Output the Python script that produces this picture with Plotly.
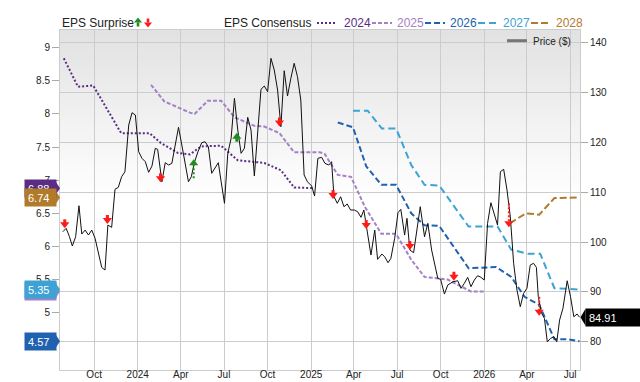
import plotly.graph_objects as go

# ---------------- data ----------------
price_dates = ["2023-07-27","2023-08-03","2023-08-10","2023-08-16","2023-08-23","2023-08-30","2023-09-05","2023-09-12",
    "2023-09-19","2023-09-26","2023-10-03","2023-10-10","2023-10-17","2023-10-24","2023-10-30","2023-11-07","2023-11-14",
    "2023-11-21","2023-11-28","2023-12-05","2023-12-13","2023-12-20","2023-12-27",
    "2024-01-03","2024-01-10","2024-01-17","2024-01-24","2024-01-31","2024-02-07","2024-02-12","2024-02-21","2024-02-28",
    "2024-03-06","2024-03-13","2024-03-20","2024-03-27","2024-04-03","2024-04-10","2024-04-17","2024-04-23","2024-04-30",
    "2024-05-07","2024-05-15","2024-05-22","2024-05-29","2024-06-05","2024-06-12","2024-06-19","2024-06-25","2024-07-02",
    "2024-07-09","2024-07-16","2024-07-23","2024-07-30","2024-08-06","2024-08-13","2024-08-20","2024-08-27","2024-09-03",
    "2024-09-10","2024-09-17","2024-09-24","2024-10-01","2024-10-08","2024-10-15","2024-10-22","2024-10-29","2024-11-05",
    "2024-11-12","2024-11-19","2024-11-26","2024-12-03","2024-12-10","2024-12-17","2024-12-24",
    "2025-01-02","2025-01-08","2025-01-15","2025-01-23","2025-01-30","2025-02-07","2025-02-13","2025-02-18","2025-02-25",
    "2025-03-04","2025-03-11","2025-03-18","2025-03-25","2025-04-02","2025-04-09","2025-04-16","2025-04-22","2025-04-28",
    "2025-05-07","2025-05-15","2025-05-21","2025-05-30","2025-06-05","2025-06-12","2025-06-18","2025-06-26","2025-07-03",
    "2025-07-09","2025-07-17","2025-07-22","2025-07-28","2025-08-05","2025-08-12","2025-08-19","2025-08-28","2025-09-04",
    "2025-09-12","2025-09-19","2025-09-25","2025-10-01","2025-10-09","2025-10-16","2025-10-27","2025-11-06","2025-11-13",
    "2025-11-20","2025-11-27","2025-12-04","2025-12-11","2025-12-18","2025-12-25",
    "2026-01-01","2026-01-08","2026-01-15","2026-01-22","2026-01-29","2026-02-04","2026-02-11","2026-02-18","2026-02-25",
    "2026-03-04","2026-03-11","2026-03-18","2026-03-25","2026-04-01","2026-04-08","2026-04-15","2026-04-21","2026-04-25",
    "2026-05-02","2026-05-08","2026-05-14","2026-05-21","2026-05-28","2026-06-03","2026-06-09","2026-06-16","2026-06-25",
    "2026-07-02","2026-07-09","2026-07-16","2026-07-21"]
price_values = [102.07,102.75,101.06,99.2,101.06,107.28,101.6,102.4,
    101.4,102.4,100.74,97.73,94.92,94.38,103.41,102.95,110.58,
    110.98,113.1,114.1,123.48,125.95,125.49,
    118.12,116.79,116.12,113.99,115.25,118.81,118.6,112.1,115.92,
    115.45,115.79,119.47,123.02,119.47,116.12,112.1,113.1,116.12,
    118.12,119.93,120.13,119.13,113.79,114.79,115.92,112.1,107.77,
    117.8,120.81,128.84,122.48,117.8,118.81,125.03,122.48,113.25,
    122.48,130.65,131.31,130.17,136.87,134.52,130.51,123.14,134.38,
    129.3,132.86,135.87,133.18,128.5,113.45,112.1,
    111.24,109.23,116.8,117.0,115.8,115.45,116.12,109.09,107.77,
    109.09,107.09,107.63,106.42,106.42,106.08,104.96,106.42,103.07,
    97.39,102.41,96.53,97.59,97.05,95.85,96.73,100.74,105.88,
    106.56,101.4,104.76,98.39,97.85,102.41,107.09,101.06,103.75,
    98.39,95.38,92.71,92.51,89.56,91.37,92.03,92.23,90.71,
    91.7,92.92,91.03,92.37,93.24,92.92,
    92.37,103.75,107.89,105.42,103.41,114.11,114.59,110.44,105.08,
    95.73,90.37,87.02,89.7,90.71,95.38,95.73,94.92,89.02,
    85.69,84.69,79.99,80.67,80.99,79.99,84.35,86.7,92.23,
    89.02,85.01,85.55,84.91]

eps2024_dates = ["2023-07-29","2023-08-28","2023-09-29","2023-11-27","2024-01-26","2024-02-19","2024-03-26","2024-04-20",
    "2024-05-14","2024-06-25","2024-07-30","2024-09-24","2024-10-29","2024-11-26","2025-01-04"]
eps2024_values = [8.84,8.41,8.43,7.71,7.71,7.56,7.41,7.39,7.51,7.52,7.30,7.26,7.15,6.89,6.88]

eps2025_dates = ["2024-01-29","2024-02-26","2024-04-20","2024-04-30","2024-05-28","2024-06-25","2024-07-23","2024-09-03",
    "2024-09-24","2024-10-26","2024-11-26","2025-01-19","2025-01-29","2025-02-26","2025-03-26","2025-04-24","2025-05-29",
    "2025-06-29","2025-07-31","2025-08-28","2025-10-16","2025-11-13","2025-12-04","2025-12-31"]
eps2025_values = [8.44,8.19,8.02,8.00,8.20,8.20,7.95,7.82,7.81,7.71,7.42,7.42,7.40,7.08,7.05,6.60,6.19,6.19,5.80,5.54,
    5.50,5.39,5.32,5.32]

eps2026_dates = ["2025-02-26","2025-03-30","2025-04-27","2025-05-29","2025-06-29","2025-07-31","2025-08-28","2025-09-28",
    "2025-11-29","2026-01-26","2026-02-27","2026-03-27","2026-04-27","2026-05-29","2026-06-26","2026-07-21"]
eps2026_values = [7.87,7.80,7.21,6.93,6.93,6.50,6.32,6.31,5.67,5.69,5.54,5.24,5.12,4.60,4.60,4.57]

eps2027_dates = ["2025-03-30","2025-04-30","2025-05-30","2025-06-29","2025-07-31","2025-08-28","2025-09-28","2025-11-29",
    "2026-01-29","2026-02-27","2026-04-03","2026-04-29","2026-05-29","2026-07-21"]
eps2027_values = [8.05,8.05,7.78,7.78,7.23,6.93,6.92,6.30,6.30,5.95,5.89,5.89,5.37,5.35]

eps2028_dates = ["2026-02-24","2026-03-30","2026-04-27","2026-05-29","2026-07-21"]
eps2028_values = [6.35,6.50,6.48,6.73,6.74]

surprise_dates = ["2023-07-31","2023-10-29","2024-02-18","2024-04-28","2024-07-28","2024-10-26",
    "2025-02-16","2025-04-27","2025-07-28","2025-10-29","2026-02-22","2026-04-27"]
surprise_dir = ["down","down","down","up","up","down","down","down","down","down","down","down"]
surprise_head = [103.55,104.42,112.78,115.8,121.13,124.0,109.43,103.41,99.2,93.04,103.75,86.0]
surprise_tail = [104.55,105.42,113.78,112.78,120.13,125.0,110.43,104.41,100.2,94.04,107.77,89.02]

x_tick_vals = ["2023-10-01","2024-01-01","2024-04-01","2024-07-01","2024-10-01","2025-01-01","2025-04-01",
    "2025-07-01","2025-10-01","2026-01-01","2026-04-01","2026-07-01"]
x_tick_text = ["Oct","2024","Apr","Jul","Oct","2025","Apr","Jul","Oct","2026","Apr","Jul"]
eps_tick_vals = [5, 5.5, 6, 6.5, 7, 7.5, 8, 8.5, 9]
eps_tick_text = ["5", "5.5", "6", "6.5", "7", "7.5", "8", "8.5", "9"]
price_tick_vals = [80, 90, 100, 110, 120, 130, 140]

series_names = ["2024", "2025", "2026", "2027", "2028"]

# ---------------- styling ----------------
FONT = "Liberation Sans, Arial, sans-serif"
W, H = 640, 382
L, R, T, B = 60, 60, 30, 12
PW, PH = W - L - R, H - T - B

def pxx(x):
    return (x - L) / PW

def pxy(y):
    return (H - B - y) / PH

C = {"2024": "#5b2c83", "2025": "#a481c6", "2026": "#2062b0", "2027": "#3da2d4", "2028": "#b07c2c"}
DASH = {"2024": "2px,2px", "2025": "4px,2px", "2026": "6px,3px", "2027": "7px,4px", "2028": "7px,3px"}
RED, GREEN = "#ff1a1a", "#1e8c1e"

series = {
    "2024": (eps2024_dates, eps2024_values),
    "2025": (eps2025_dates, eps2025_values),
    "2026": (eps2026_dates, eps2026_values),
    "2027": (eps2027_dates, eps2027_values),
    "2028": (eps2028_dates, eps2028_values),
}

fig = go.Figure()

for name in series_names:
    d, v = series[name]
    fig.add_trace(go.Scatter(x=d, y=v, mode="lines", yaxis="y",
                             line=dict(color=C[name], width=2, dash=DASH[name]),
                             showlegend=False, hoverinfo="skip"))

fig.add_trace(go.Scatter(x=price_dates, y=price_values, mode="lines", yaxis="y2",
                         line=dict(color="#111111", width=1), showlegend=False, hoverinfo="skip"))

# surprise arrows
for col, dirn in ((RED, "down"), (GREEN, "up")):
    sx, sy, dx, dy, hx, hy = [], [], [], [], [], []
    for d, di, h, t in zip(surprise_dates, surprise_dir, surprise_head, surprise_tail):
        if di != dirn:
            continue
        if abs(t - h) > 1.5:
            dx += [d, d, None]; dy += [t, h, None]
        else:
            sx += [d, d, None]; sy += [t, h, None]
        hx.append(d); hy.append(h)
    if sx:
        fig.add_trace(go.Scatter(x=sx, y=sy, mode="lines", yaxis="y2", line=dict(color=col, width=3),
                                 showlegend=False, hoverinfo="skip"))
    if dx:
        fig.add_trace(go.Scatter(x=dx, y=dy, mode="lines", yaxis="y2", line=dict(color=col, width=2, dash="2px,2px"),
                                 showlegend=False, hoverinfo="skip"))
    fig.add_trace(go.Scatter(x=hx, y=hy, mode="markers", yaxis="y2",
                             marker=dict(symbol="triangle-down" if dirn == "down" else "triangle-up",
                                         size=8, color=col, line=dict(width=0)),
                             showlegend=False, hoverinfo="skip"))

shapes = []
annotations = []

# gradient background (top of plot grey fading to white)
N = 34
for i in range(N):
    y0 = 30 + i * 5
    g = int(round(226 + (255 - 226) * i / (N - 1)))
    shapes.append(dict(type="rect", xref="paper", yref="paper", x0=0, x1=1, y0=pxy(y0 + 5), y1=pxy(y0),
                       fillcolor=f"rgb({g},{g},{g})", line=dict(width=0), layer="below"))

# legend row
TXT = "#222222"
annotations.append(dict(text="EPS Surprise", x=pxx(60), y=pxy(23), xref="paper", yref="paper", xanchor="left",
                        yanchor="middle", showarrow=False, font=dict(family=FONT, size=12, color=TXT)))

def up_arrow(cx, cy, col):
    return [dict(type="path", xref="paper", yref="paper", line=dict(width=0), fillcolor=col,
                 path=f"M{pxx(cx-4)},{pxy(cy)} L{pxx(cx+4)},{pxy(cy)} L{pxx(cx)},{pxy(cy-5)} Z"),
            dict(type="rect", xref="paper", yref="paper", line=dict(width=0), fillcolor=col,
                 x0=pxx(cx-1.3), x1=pxx(cx+1.3), y0=pxy(cy+4), y1=pxy(cy))]

def down_arrow(cx, cy, col):
    return [dict(type="path", xref="paper", yref="paper", line=dict(width=0), fillcolor=col,
                 path=f"M{pxx(cx-4)},{pxy(cy)} L{pxx(cx+4)},{pxy(cy)} L{pxx(cx)},{pxy(cy+5)} Z"),
            dict(type="rect", xref="paper", yref="paper", line=dict(width=0), fillcolor=col,
                 x0=pxx(cx-1.3), x1=pxx(cx+1.3), y0=pxy(cy), y1=pxy(cy-4))]

shapes += up_arrow(138, 22.5, GREEN)
shapes += down_arrow(148, 22.5, RED)

annotations.append(dict(text="EPS Consensus", x=pxx(221.5), y=pxy(23), xref="paper", yref="paper", xanchor="left",
                        yanchor="middle", showarrow=False, font=dict(family=FONT, size=12, color=TXT)))
leg_pos = {"2024": (317, 336, 341.5), "2025": (372, 392, 394.5), "2026": (425, 445, 447.5),
           "2027": (478, 497, 500.5), "2028": (531, 551, 553.5)}
for name in series_names:
    a, b, tx = leg_pos[name]
    shapes.append(dict(type="line", xref="paper", yref="paper", x0=pxx(a), x1=pxx(b), y0=pxy(23), y1=pxy(23),
                       line=dict(color=C[name], width=2, dash=DASH[name])))
    annotations.append(dict(text=name, x=pxx(tx), y=pxy(23), xref="paper", yref="paper", xanchor="left",
                            yanchor="middle", showarrow=False, font=dict(family=FONT, size=12, color=C[name])))

# price legend inside plot
shapes.append(dict(type="line", xref="paper", yref="paper", x0=pxx(507), x1=pxx(527), y0=pxy(40.7), y1=pxy(40.7),
                   line=dict(color="#777777", width=3)))
annotations.append(dict(text="Price ($)", x=pxx(531), y=pxy(41), xref="paper", yref="paper", xanchor="left",
                        yanchor="middle", showarrow=False, font=dict(family=FONT, size=10, color=TXT)))

# left value flags (last consensus values)
EPS_PX = 66.25
flag_order = ["2024", "2028", "2025", "2027", "2026"]
for name in flag_order:
    v = series[name][1][-1]
    hh = 8.5 / EPS_PX
    shapes.append(dict(type="path", xref="paper", yref="y", line=dict(width=0), fillcolor=C[name],
                       path=f"M{pxx(54.5)},{v+hh} L{pxx(60)},{v} L{pxx(54.5)},{v-hh} Z"))
    annotations.append(dict(text=f"{v:.2f}", x=pxx(24), y=v, xref="paper", yref="y", xanchor="left",
                            yanchor="middle", showarrow=False, align="left", width=25, height=11, borderpad=3,
                            bgcolor=C[name], font=dict(family=FONT, size=11, color="white")))

# right price flag
PR_PX = 4.983
lastp = price_values[-1]
hp = 8.5 / PR_PX
shapes.append(dict(type="path", xref="paper", yref="y2", line=dict(width=0), fillcolor="#000000",
                   path=f"M{pxx(585.5)},{lastp+hp} L{pxx(580.5)},{lastp} L{pxx(585.5)},{lastp-hp} Z"))
annotations.append(dict(text=f"{lastp:.2f}", x=pxx(585), y=lastp, xref="paper", yref="y2", xanchor="left",
                        yanchor="middle", showarrow=False, align="left", width=49, height=11, borderpad=3,
                        bgcolor="#000000", font=dict(family=FONT, size=11, color="white")))

GRID = "#cccccc"
fig.update_layout(
    width=W, height=H, margin=dict(l=L, r=R, t=T, b=B, autoexpand=False),
    paper_bgcolor="white", plot_bgcolor="white",
    font=dict(family=FONT, size=10, color=TXT),
    showlegend=False,
    xaxis=dict(type="date", range=["2023-07-21", "2026-07-22"], tickvals=x_tick_vals, ticktext=x_tick_text,
               showgrid=True, gridcolor=GRID, gridwidth=1, showline=True, linecolor=GRID, mirror=True,
               ticks="", ticklabelstandoff=-5, tickfont=dict(family=FONT, size=10, color=TXT), zeroline=False),
    yaxis=dict(range=[4.135, 9.267], tickvals=eps_tick_vals, ticktext=eps_tick_text, showgrid=False,
               showline=True, linecolor=GRID, ticks="outside", ticklen=7, tickcolor="#aaaaaa",
               tickfont=dict(family=FONT, size=10, color=TXT), zeroline=False),
    yaxis2=dict(range=[74.32, 142.55], tickvals=price_tick_vals, overlaying="y", side="right",
                showgrid=True, gridcolor=GRID, gridwidth=1, showline=True, linecolor=GRID,
                ticks="outside", ticklen=7, tickcolor="#aaaaaa",
                tickfont=dict(family=FONT, size=10, color=TXT), zeroline=False),
    shapes=shapes, annotations=annotations,
)

fig.write_html("out.html")
